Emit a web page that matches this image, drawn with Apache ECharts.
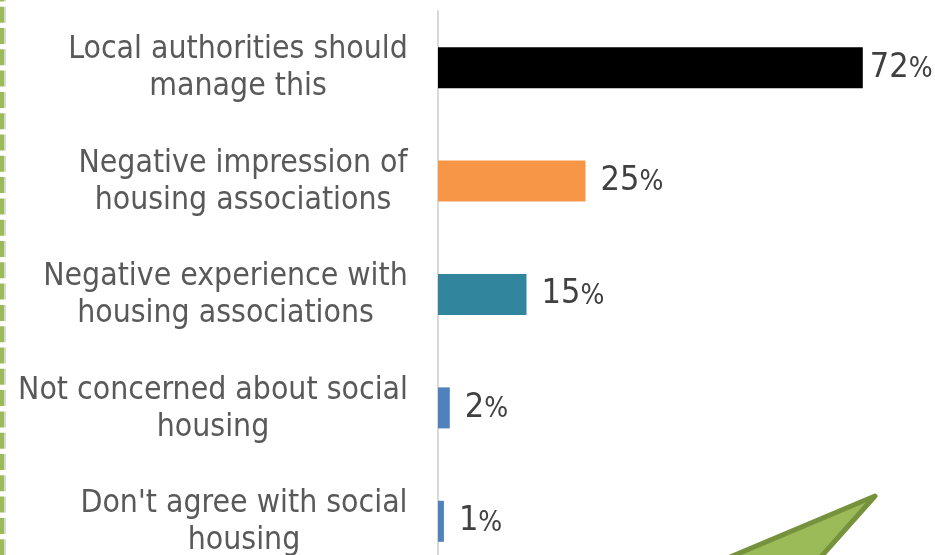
<!DOCTYPE html>
<html>
<head>
<meta charset="utf-8">
<style>html,body{margin:0;padding:0;background:#fff}#chart{width:935px;height:555px}</style>
<script src="https://cdn.jsdelivr.net/npm/echarts@6/dist/echarts.min.js"></script>
</head>
<body>
<div id="chart"></div>
<script>
// Reasons given for opposing the transfer, share of respondents
const categories = [
  'Local authorities should\nmanage this',
  'Negative impression of\nhousing associations',
  'Negative experience with\nhousing associations',
  'Not concerned about social\nhousing',
  "Don't agree with social\nhousing"
];
const shares = [72, 25, 15, 2, 1];
const barColors = ['#000000', '#F79646', '#31859C', '#4F81BD', '#4F81BD'];

const FONT = '"DejaVu Sans Condensed"';
const LABEL_SIZE = 31.7;

// Longest line of each label, so the lines can be centred within a right-aligned block
const ctx = document.createElement('canvas').getContext('2d');
ctx.font = LABEL_SIZE + 'px ' + FONT;
const blockWidths = categories.map(c =>
  Math.ceil(Math.max(...c.split('\n').map(l => ctx.measureText(l).width))));
const rich = {};
blockWidths.forEach((w, i) => {
  rich['c' + i] = { width: w, align: 'center', fontFamily: FONT, fontSize: LABEL_SIZE, color: '#595959', lineHeight: 37 };
});

const chart = echarts.init(document.getElementById('chart'), null, { renderer: 'canvas' });
chart.setOption({
  animation: false,
  backgroundColor: '#ffffff',
  grid: { left: 438, top: 11, width: 472, height: 567, containLabel: false, outerBoundsMode: 'none' },
  xAxis: { type: 'value', min: 0, max: 80, show: false },
  yAxis: {
    type: 'category',
    inverse: true,
    data: categories,
    axisLine: { lineStyle: { color: '#D9D9D9', width: 2 } },
    axisTick: { show: false },
    axisLabel: {
      margin: 30,
      interval: 0,
      align: 'right',
      padding: [2, 0, 0, 0],
      formatter: (value, i) => value.split('\n').map(l => `{c${i}|${l}}`).join('\n'),
      rich
    }
  },
  series: [{
    type: 'bar',
    data: shares.map((v, i) => ({
      value: v,
      itemStyle: { color: barColors[i] },
      // The longest bar leaves little room, so its label sits closer
      label: { distance: i === 0 ? 7 : 15 }
    })),
    barWidth: 41,
    label: {
      show: true,
      position: 'right',
      formatter: '{n|{c}}{p|%}',
      rich: {
        n: { fontFamily: FONT, fontSize: 34, color: '#404040' },
        p: { fontFamily: FONT, fontSize: 28, color: '#404040', padding: [4, 0, 0, 0] }
      }
    }
  }],
  graphic: [
    // Dashed frame edge along the left side, with its soft shadow
    { type: 'line', silent: true, shape: { x1: 5, y1: 0, x2: 5, y2: 555 },
      style: { stroke: '#D8D8D8', lineWidth: 2, lineDash: [16, 5.3], lineDashOffset: 14.6 } },
    { type: 'line', silent: true, shape: { x1: 2, y1: -14.6, x2: 2, y2: 570 },
      style: { stroke: '#9BBB59', lineWidth: 4, lineDash: [16, 5.3] } },
    // Callout arrow tip rising from the bottom edge
    { type: 'polygon', silent: true,
      shape: { points: [[875, 496], [640, 595], [787, 595]] },
      style: { fill: '#9BBB59', stroke: '#76923C', lineWidth: 5, lineJoin: 'round' } }
  ]
});
</script>
</body>
</html>
